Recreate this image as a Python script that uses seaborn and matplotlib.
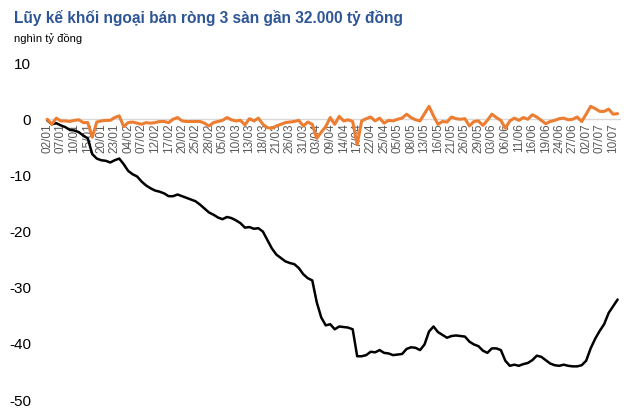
import matplotlib
matplotlib.use("Agg")
import matplotlib.pyplot as plt
import pandas as pd
import seaborn as sns

# trading days (HOSE 2025), holidays removed
holidays = ["2025-01-01", "2025-01-27", "2025-01-28", "2025-01-29", "2025-01-30",
            "2025-01-31", "2025-04-07", "2025-04-30", "2025-05-01", "2025-05-02"]
days = pd.bdate_range("2025-01-02", "2025-07-31")
days = [d for d in days if d.strftime("%Y-%m-%d") not in holidays]

tick_labels = ["02/01", "07/01", "10/01", "15/01", "20/01", "23/01", "04/02", "07/02",
               "12/02", "17/02", "20/02", "25/02", "28/02", "05/03", "10/03", "13/03",
               "18/03", "21/03", "26/03", "31/03", "03/04", "09/04", "14/04", "17/04",
               "22/04", "25/04", "05/05", "08/05", "13/05", "16/05", "21/05", "26/05",
               "29/05", "03/06", "06/06", "11/06", "16/06", "19/06", "24/06", "27/06",
               "02/07", "07/07", "10/07"]

# cumulative net selling (thousand bn VND)
cumulative = [-0.2, -0.9, -0.7, -1.1, -1.4, -1.9, -2.0, -2.3, -2.9, -3.4,
              -6.2, -7.0, -7.3, -7.4, -7.7, -7.3, -7.0, -8.0, -9.2, -9.8,
              -10.2, -11.1, -11.8, -12.3, -12.7, -12.9, -13.2, -13.7, -13.7, -13.4,
              -13.7, -14.0, -14.3, -14.6, -15.2, -15.9, -16.6, -17.0, -17.5, -17.8,
              -17.4, -17.6, -18.0, -18.5, -19.3, -19.2, -19.5, -19.4, -20.0, -21.5,
              -23.0, -24.1, -24.7, -25.3, -25.6, -25.8, -26.5, -27.6, -28.3, -28.7,
              -32.6, -35.3, -36.7, -36.5, -37.4, -36.9, -37.0, -37.1, -37.4, -42.2,
              -42.2, -42.0, -41.4, -41.5, -41.1, -41.6, -41.7, -42.0, -41.9, -41.8,
              -40.9, -40.6, -40.7, -41.1, -40.1, -37.8, -36.9, -37.9, -38.4, -38.9,
              -38.6, -38.5, -38.6, -38.7, -39.6, -40.1, -40.4, -41.2, -41.6, -40.8,
              -40.8, -41.1, -43.0, -43.9, -43.7, -43.9, -43.6, -43.4, -42.9, -42.1,
              -42.3, -42.9, -43.5, -43.8, -43.9, -43.7, -43.9, -44.0, -44.0, -43.8,
              -43.0, -40.8, -39.1, -37.7, -36.5, -34.5, -33.3, -32.1]

# daily net value
daily = [0.0, -0.9, 0.2, -0.3, -0.3, -0.4, -0.2, -0.1, -0.6, -0.6,
         -3.2, -0.5, -0.3, -0.2, -0.2, 0.3, 0.6, -1.3, -0.6, -0.5,
         -0.7, -0.9, -0.6, -0.7, -0.6, -0.4, -0.4, -0.6, 0.0, 0.3,
         -0.3, -0.4, -0.4, -0.4, -0.4, -0.7, -1.2, -0.6, -0.4, -0.2,
         0.3, -0.1, -0.3, -0.2, -1.0, 0.1, -0.3, 0.2, -0.9, -1.5,
         -1.6, -1.2, -0.9, -0.6, -0.5, -0.4, -0.2, -1.2, -0.5, -0.9,
         -3.4, -2.3, -1.3, 0.3, -0.9, 0.5, -0.3, -0.1, -0.4, -4.5,
         -0.3, 0.1, 0.4, -0.3, 0.2, -0.7, -0.2, -0.3, 0.0, 0.2,
         0.9, 0.3, -0.1, -0.3, 1.0, 2.3, 0.6, -0.9, -0.4, -0.5,
         0.4, 0.1, 0.0, 0.1, -1.2, -0.4, -0.3, -1.1, -0.2, 0.9,
         0.3, -0.2, -1.6, -0.3, 0.2, -0.2, 0.3, 0.0, 0.8, 0.4,
         -0.2, -0.8, -0.4, -0.2, 0.1, 0.2, -0.1, 0.0, 0.4, -0.4,
         0.9, 2.3, 1.9, 1.4, 1.4, 1.8, 0.9, 1.0]

sns.set_theme(style="white")
plt.rcParams["font.family"] = ["Liberation Sans", "DejaVu Sans"]
plt.rcParams["axes.unicode_minus"] = False

n = len(cumulative)
labels = [d.strftime("%d/%m") for d in days[:n]]
df = pd.DataFrame({"pos": range(n), "date": labels, "cumulative": cumulative, "daily": daily})

fig = plt.figure(figsize=(6.4, 4.15), dpi=100)
ax = fig.add_axes([0.0705, 0.036, 0.898, 0.812])

sns.lineplot(data=df, x="pos", y="cumulative", color="black", lw=1.8, ax=ax, zorder=2)
sns.lineplot(data=df, x="pos", y="daily", color="#ED7D31", lw=2.2, ax=ax, zorder=3)

for side in ["top", "right", "left"]:
    ax.spines[side].set_visible(False)
ax.spines["bottom"].set_position(("data", 0))
ax.spines["bottom"].set_color("#d9d9d9")
ax.spines["bottom"].set_linewidth(1)
ax.spines["bottom"].set_zorder(1)

ax.set_xlim(-0.5, n - 0.5)
ax.set_ylim(-50, 10)
ax.set_yticks(range(-50, 11, 10))
ax.set(xlabel=None, ylabel=None)

ticks = [labels.index(t) for t in tick_labels]
ax.set_xticks(ticks)
ax.set_xticklabels(tick_labels)

ax.tick_params(axis="x", length=0, pad=3, labelsize=8.5, labelcolor="#595959",
               labelrotation=90)
ax.tick_params(axis="y", length=0, pad=10, labelsize=11, labelcolor="black")

fig.text(0.022, 0.975, "Lũy kế khối ngoại bán ròng 3 sàn gần 32.000 tỷ đồng",
         fontsize=11.2, fontweight="bold", color="#2E5696", va="top", ha="left")
fig.text(0.022, 0.92, "nghìn tỷ đồng", fontsize=8, color="black", va="top", ha="left")

plt.savefig("out.png", dpi=100)
